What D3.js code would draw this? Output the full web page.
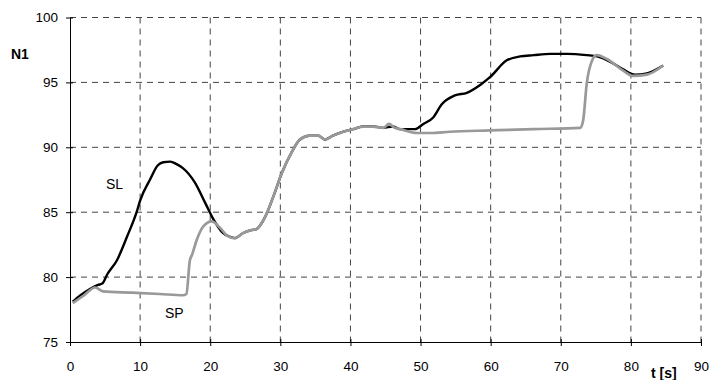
<!DOCTYPE html>
<html>
<head>
<meta charset="utf-8">
<script src="https://cdn.jsdelivr.net/npm/d3@7"></script>
<style>
  body { margin: 0; background: #fff; }
  svg { display: block; font-family: "Liberation Sans", Arial, sans-serif; }
</style>
</head>
<body>
<div id="chart"></div>
<script>
// time [s] and N1 values
const slTime = [0.4, 1.5, 2.9, 4.0, 4.6, 5.3, 6.7, 8.2, 9.5, 10.0, 11.4, 12.5, 13.3, 14.3, 15.2, 16.1, 17.8, 19.3, 20.4, 21.8, 22.8, 23.5, 24.7, 25.7, 26.6, 27.8, 29.0, 30.2, 31.6, 32.8, 34.2, 35.4, 36.4, 37.5, 39.0, 40.4, 41.8, 43.2, 44.7, 46.0, 47.1, 49.2, 50.4, 51.8, 53.0, 54.9, 56.6, 58.5, 59.9, 62.3, 64.2, 66.1, 68.5, 70.9, 73.7, 75.2, 77.0, 78.9, 80.6, 82.3, 84.6];
const slValue = [78.1, 78.6, 79.1, 79.4, 79.5, 80.2, 81.3, 83.2, 85.0, 85.9, 87.5, 88.6, 88.85, 88.9, 88.7, 88.4, 87.3, 85.7, 84.5, 83.4, 83.1, 83.0, 83.4, 83.6, 83.7, 84.6, 86.2, 88.0, 89.6, 90.6, 90.9, 90.9, 90.6, 90.9, 91.2, 91.4, 91.6, 91.6, 91.5, 91.6, 91.4, 91.4, 91.8, 92.3, 93.3, 94.0, 94.2, 94.8, 95.4, 96.7, 97.0, 97.1, 97.2, 97.2, 97.1, 97.0, 96.6, 96.0, 95.6, 95.7, 96.3];

const spTime = [0.4, 2.0, 3.6, 4.7, 9.0, 12.8, 16.1, 16.6, 17.1, 17.4, 18.1, 19.0, 20.2, 21.4, 22.4, 23.5, 24.7, 25.7, 26.6, 27.8, 29.0, 30.2, 31.6, 32.8, 34.2, 35.4, 36.4, 37.5, 39.0, 40.4, 41.8, 43.2, 44.7, 45.5, 46.3, 47.1, 49.5, 51.4, 54.2, 59.9, 66.1, 72.8, 73.2, 73.7, 74.4, 75.1, 76.6, 78.9, 80.3, 82.3, 84.6];
const spValue = [78.0, 78.6, 79.2, 78.9, 78.8, 78.7, 78.6, 78.7, 81.3, 81.7, 82.9, 83.9, 84.3, 83.8, 83.2, 83.0, 83.4, 83.6, 83.7, 84.6, 86.2, 88.0, 89.6, 90.6, 90.9, 90.9, 90.6, 90.9, 91.2, 91.4, 91.6, 91.6, 91.5, 91.8, 91.5, 91.4, 91.1, 91.1, 91.2, 91.3, 91.4, 91.5, 92.1, 94.9, 96.6, 97.1, 96.8, 95.9, 95.5, 95.6, 96.3];

const xTicks = [0, 10, 20, 30, 40, 50, 60, 70, 80, 90];
const yTicks = [75, 80, 85, 90, 95, 100];

const WIDTH = 709;
const HEIGHT = 380;

const svg = d3.select('#chart')
    .append('svg')
    .attr('width', WIDTH)
    .attr('height', HEIGHT);

const x = d3.scaleLinear().domain([0, 90]).range([70, 701]);
const y = d3.scaleLinear().domain([75, 100]).range([342, 17.5]);

// dashed grid
svg.append('g')
    .selectAll('line')
    .data(xTicks.slice(1))
    .enter().append('line')
    .attr('x1', d => x(d)).attr('x2', d => x(d))
    .attr('y1', y(100)).attr('y2', y(75))
    .attr('stroke', '#444')
    .attr('stroke-width', 1)
    .attr('stroke-dasharray', '6,5');

svg.append('g')
    .selectAll('line')
    .data(yTicks.slice(1))
    .enter().append('line')
    .attr('x1', x(0)).attr('x2', x(90))
    .attr('y1', d => y(d)).attr('y2', d => y(d))
    .attr('stroke', '#444')
    .attr('stroke-width', 1)
    .attr('stroke-dasharray', '6,5');

// axes
const xAxis = d3.axisBottom(x).tickValues(xTicks).tickSizeInner(4).tickSizeOuter(0).tickPadding(15);
const yAxis = d3.axisLeft(y).tickValues(yTicks).tickSizeInner(4).tickSizeOuter(0).tickPadding(8);

const gx = svg.append('g').attr('transform', `translate(0,${y(75)})`).call(xAxis);
const gy = svg.append('g').attr('transform', `translate(${x(0)},0)`).call(yAxis);

[gx, gy].forEach(g => {
    g.select('.domain').attr('stroke', '#000').attr('stroke-width', 1);
    g.selectAll('.tick line').attr('stroke', '#000');
    g.selectAll('text')
        .attr('font-family', '"Liberation Sans", Arial, sans-serif')
        .attr('font-size', '13.5px')
        .attr('fill', '#000');
});
// ticks cross the axis line
gx.selectAll('.tick line').attr('y1', -3).attr('y2', 4);
gy.selectAll('.tick line').attr('x1', 3).attr('x2', -4);

// series
const line = d3.line()
    .x(d => x(d[0]))
    .y(d => y(d[1]))
    .curve(d3.curveMonotoneX);

const slData = slTime.map((t, i) => [t, slValue[i]]);
const spData = spTime.map((t, i) => [t, spValue[i]]);

svg.append('path')
    .attr('d', line(slData))
    .attr('fill', 'none')
    .attr('stroke', '#000')
    .attr('stroke-width', 2.4)
    .attr('stroke-linejoin', 'round');

svg.append('path')
    .attr('d', line(spData))
    .attr('fill', 'none')
    .attr('stroke', '#999')
    .attr('stroke-width', 2.7)
    .attr('stroke-linejoin', 'round');

// labels
svg.append('text')
    .attr('x', 11).attr('y', 59)
    .attr('font-size', '14px')
    .attr('font-weight', 'bold')
    .text('N1');

svg.append('text')
    .attr('x', 651).attr('y', 378)
    .attr('font-size', '14px')
    .attr('font-weight', 'bold')
    .text('t [s]');

svg.append('text')
    .attr('x', 106).attr('y', 189)
    .attr('font-size', '14px')
    .text('SL');

svg.append('text')
    .attr('x', 165).attr('y', 318)
    .attr('font-size', '14px')
    .text('SP');
</script>
</body>
</html>
